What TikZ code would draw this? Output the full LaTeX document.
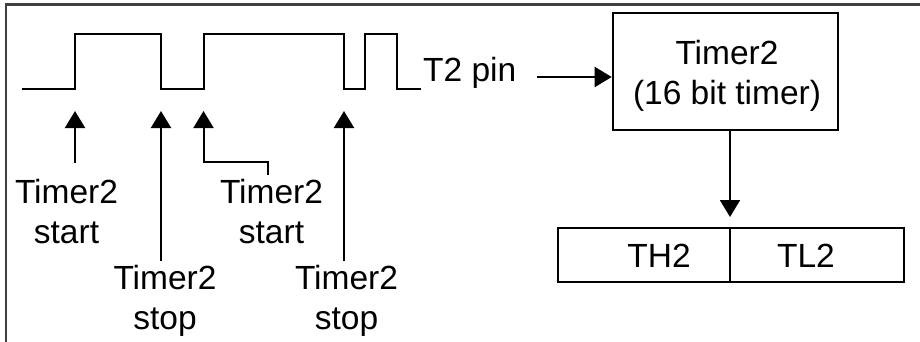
\documentclass[tikz,border=0pt]{standalone}
\usepackage{fontspec}
\setmainfont{Liberation Sans}
\usetikzlibrary{arrows.meta}
\begin{document}
\begin{tikzpicture}[x=1pt,y=-1pt,
  lbl/.style={font=\fontsize{33.5}{40}\selectfont, inner sep=0pt, align=center},
  arr/.style={-{Triangle[width=20pt,length=17pt]}, line width=2pt},
  boxed/.style={draw, line width=2pt, inner sep=0pt},
  wave/.style={line width=2pt}]
\useasboundingbox (0,0) rectangle (920,342);
% outer frame (cropped)
\draw[line width=2.5pt, black!75] (6,342) -- (6,4.5) -- (920,4.5);
% waveform
\draw[wave] (22,88.7) -- (75,88.7) -- (75,33.7) -- (161,33.7) -- (161,88.7)
  -- (204,88.7) -- (204,33.7) -- (344,33.7) -- (344,88.7) -- (365,88.7)
  -- (365,33.7) -- (397,33.7) -- (397,88.7) -- (421,88.7);
% edge coordinates
\coordinate (e1) at (75,111);
\coordinate (e2) at (161,111);
\coordinate (e3) at (203.5,111);
\coordinate (e4) at (344,111);
% labels (anchor=base is the baseline of the last line)
\node[lbl, anchor=base] (s1) at (66.5,243) {Timer2\\start};
\node[lbl, anchor=base] (p1) at (165,329) {Timer2\\stop};
\node[lbl, anchor=base] (s2) at (271.5,243) {Timer2\\start};
\node[lbl, anchor=base] (p2) at (346.5,329) {Timer2\\stop};
\coordinate (s1top) at (75,163);
\coordinate (p1top) at (161,261);
\coordinate (s2top) at (268.3,175);
\coordinate (p2top) at (344,261);
\draw[arr] (s1top) -- (e1);
\draw[arr] (p1top) -- (e2);
\draw[arr] (s2top) -- (268.3,162.3) -- (203.5,162.3) -- (e3);
\draw[arr] (p2top) -- (e4);
% T2 pin
\node[lbl, anchor=base west] (pin) at (423,82) {T2 pin};
% Timer2 box
\node[boxed, minimum width=225pt, minimum height=117.3pt] (t2) at (725.2,71.3) {};
\node[lbl, anchor=base] (t2txt) at (727,105) {Timer2\\(16 bit timer)};
\coordinate (pinend) at (537,77);
\draw[arr] (pinend) -- (t2.west |- pinend);
% register
\node[boxed, minimum width=172.3pt, minimum height=54.3pt] (th) at (643.85,254.85) {};
\node[boxed, minimum width=174pt, minimum height=54.3pt] (tl) at (817,254.85) {};
\node[lbl, anchor=base] (thtxt) at (659,267.7) {TH2};
\node[lbl, anchor=base] (tltxt) at (806,267.7) {TL2};
\coordinate (regtop) at (730,217);
\draw[arr] (t2.south -| regtop) -- (regtop);
\end{tikzpicture}
\end{document}
